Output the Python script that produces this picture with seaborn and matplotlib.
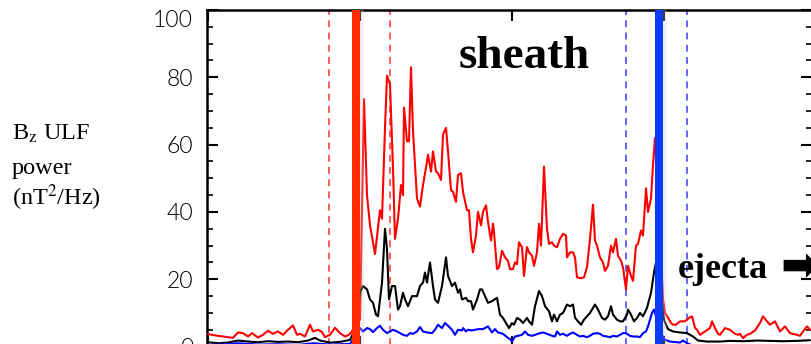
import numpy as np
import pandas as pd
import matplotlib
matplotlib.use("Agg")
import matplotlib.pyplot as plt
import seaborn as sns
from matplotlib.ticker import MultipleLocator, FixedLocator

# ---- data (time in sample index, power in nT^2/Hz) ----
red_t = [0, 5, 10, 12.5, 15, 17.5, 20, 22, 25, 27.5, 30, 32.5, 35, 37.5, 40, 42.5, 44.5, 46, 48.5, 51,
         52.5, 55, 57, 58.5, 61, 63.5, 66, 68.5, 70.5, 72, 74, 76, 78, 79.5, 81, 83.5, 86, 87, 88.5, 89.5,
         91, 92.5, 93.5, 95, 96.5, 97.5, 98, 99.5, 100.5, 101.5, 102.5, 104.5, 106, 107.5, 109.5, 110,
         111.5, 112.5, 114, 115, 116.5, 117.5, 119, 120, 121.5, 122.5, 124, 125, 126.5, 127.5, 129.5,
         130.5, 131.5, 132.5, 134, 135, 136.5, 137.5, 139, 140, 141.5, 142.5, 143, 144.5, 145.5, 147,
         148.5, 150, 151, 152.5, 153.5, 154.5, 155.5, 157, 158, 159.5, 160.5, 162, 163, 164.5, 165.5,
         166.5, 168, 169.5, 170.5, 172, 173, 174.5, 176, 177.5, 179, 179.5, 181, 182.5, 183.5, 184.5,
         186.5, 188, 189.5, 191, 192.5, 193.5, 194.5, 196, 197.5, 198.5, 200, 201.5, 202.5, 204, 205,
         206.5, 207.5, 209, 210, 211.5, 212.5, 214, 215, 216.5, 217.5, 219, 220, 221.5, 222.5, 223.5,
         225.5, 227.5, 228.5, 230, 231.5, 232.5, 234, 236, 238.5, 240.5, 242, 243.5, 244.5, 246, 248.5,
         251, 252, 253.5, 255, 256, 258.5, 261, 263.5, 265, 266, 267.5, 269.5, 271, 273.5, 276, 277.5,
         279.5, 281, 283.5, 286, 288.5, 291, 294.5, 296, 297.5, 299.5, 301]
red_v = [3.7, 3.2, 2.8, 2.6, 4.2, 4.0, 3.0, 4.0, 2.7, 3.5, 4.7, 3.8, 4.5, 3.5, 5.0, 6.3, 3.5, 3.8, 3.0, 6.5,
         4.5, 5.0, 4.3, 2.8, 3.5, 5.6, 4.0, 3.0, 3.5, 4.5, 7.0, 8.0, 73.5, 45, 36, 27.5, 40.5, 38, 65, 80.5,
         78, 53, 32, 38, 48, 45, 71, 61, 61, 83, 64, 44, 41.6, 48, 55, 57,
         52, 58, 52, 51.5, 49.5, 63, 65, 58, 46.5, 46, 43, 51, 51.5, 46, 40.5,
         40.5, 32, 28, 33, 40, 36, 40, 42, 37, 31.5, 36.5, 34, 23, 23.5, 28.5,
         26.5, 25.5, 23, 23, 25, 24.5, 31, 29.5, 21, 29.6, 28, 27, 24, 28, 36.5,
         30, 53.5, 35, 30.5, 31, 30, 29.5, 32, 33.5, 33, 26.5, 28, 28, 26.5, 20.6,
         20.3, 20.6, 23.6, 32, 42.2, 31.5, 30, 26.5, 25, 22.5, 24, 30, 28, 32, 27,
         25.5, 23.5, 17, 24, 21, 19.5, 30, 30.5, 34.5, 33, 47, 40, 44, 54, 62,
         40, 14, 10, 8.6, 7.0, 6.5, 6.5, 7.5, 7.5, 8.5, 9.0, 5.6, 5.0, 3.5, 4.5,
         5.5, 7.5, 5.5, 3.8, 3.5, 5.5, 5.0, 3.8, 3.5, 3.8, 2.5, 3.5, 3.8, 4.8, 7.0, 9.0,
         7.5, 6.5, 7.5, 4.5, 6.0, 4.0, 3.5, 3.2, 4.5, 6.0, 5.0]

black_t = [0, 5, 10, 15, 20, 25, 30, 35, 40, 45, 50, 53.5, 56, 61, 66, 71, 73.5, 76, 77.5, 79.5, 81,
           82.5, 84, 85, 87, 88.5, 89.5, 90.5, 92, 93.5, 95, 96, 97.5, 98.5, 100, 102, 104.5, 106, 107.5,
           108.5, 109.5, 111, 112.5, 113.5, 115, 117, 119, 120, 122, 123.5, 125, 126, 127, 129, 130,
           131.5, 132.5, 134.5, 136, 137, 138.5, 140, 142, 144.5, 146, 147.5, 149.5, 150.5, 152, 153,
           154.5, 156, 157.5, 159.5, 160.5, 162, 163.5, 165.5, 167, 168.5, 170.5, 172, 173, 174.5, 176,
           177.5, 179.5, 181, 182.5, 183.5, 185, 186.5, 188, 189.5, 191, 193.5, 195, 197, 198.5, 200,
           201.5, 202.5, 204.5, 206, 207.5, 209.5, 210, 211.5, 213, 214.5, 216, 217.5, 219.5, 221.5,
           223, 224, 226.5, 228, 229, 230, 232.5, 236, 239.5, 242.5, 245, 249.5, 256, 261, 267.5,
           274.5, 281, 287.5, 294.5, 301]
black_v = [1.3, 1.0, 1.2, 1.8, 1.5, 1.3, 1.6, 1.4, 1.5, 1.3, 1.8, 2.6, 1.8, 1.2, 1.4, 2.0, 5, 16, 18, 17, 14,
           13, 9.5, 9, 19, 35, 29, 14, 18, 18, 11, 12, 16, 14, 12, 15, 15, 18, 19,
           22, 19, 25, 18, 14, 13, 18, 26.5, 21, 18, 19, 16, 17, 14, 14.5, 13.5,
           13.5, 11, 14, 17, 17, 15, 13, 13.5, 14.5, 9.5, 8.5, 6.5, 5.5, 7, 6.5,
           8.5, 8, 7, 8.5, 7.5, 6.5, 12, 16.5, 15, 12, 10.5, 7.5, 9.5, 7.5, 9.5,
           10, 12.5, 12, 12.5, 8.6, 7.5, 6.5, 8, 9, 10, 12.5, 11, 8.5, 8, 9,
           12, 9.5, 8, 7.5, 7.5, 9.5, 11, 9.5, 7.5, 8.5, 10, 9, 11.5, 16,
           22, 25, 15, 8, 6.5, 5.2, 4.5, 4.2, 4.0, 3.0, 1.8, 1.5, 1.5, 1.7, 1.6,
           1.8, 1.7, 1.6, 1.7, 1.9]

blue_t = [0, 10, 15, 25, 35, 45, 52.5, 61, 71, 73.5, 76, 77.5, 79.5, 81, 82.5, 84.5, 86, 87.5, 89.5, 91,
          92.5, 94.5, 96, 97.5, 99.5, 101, 102.5, 104.5, 106, 107.5, 109.5, 112, 113.5, 115, 117, 118.5,
          120, 122, 123.5, 125, 127, 127.5, 129, 130, 132, 133.5, 135.5, 137.5, 140, 142, 143.5, 145,
          147.5, 149.5, 151, 152, 153.5, 155, 157, 158.5, 160, 162, 163.5, 166, 167.5, 169.5, 172,
          173.5, 174.5, 176, 177.5, 179.5, 181, 182.5, 184.5, 186, 187.5, 189.5, 191, 192.5, 194.5,
          196, 197.5, 199.5, 201, 202.5, 204.5, 206, 207.5, 209, 211, 212.5, 214.5, 216, 217.5, 219,
          220, 222, 223, 224.5, 226.5, 228.5, 231, 236, 237.5, 239.5, 242, 251, 266, 281, 301]
blue_v = [0.5, 0.7, 1.0, 0.6, 0.7, 0.5, 1.0, 0.6, 0.8, 3, 5.5, 4.5, 5.5, 5.2, 4.3, 5.5, 6.2, 5.0, 4.0, 4.5,
          5.0, 4.5, 4.0, 3.5, 3.2, 4.0, 3.8, 4.5, 5.8, 4.5, 4.2, 4.0, 5.0, 6.5, 5.5, 7.0,
          6.2, 5.0, 3.5, 5.0, 4.8, 5.5, 4.5, 5.0, 4.8, 5.0, 5.2, 5.2, 6.0, 4.2, 5.2, 4.2,
          3.8, 2.8, 2.2, 1.5, 3.0, 3.2, 3.5, 4.5, 3.5, 3.2, 3.5, 4.0, 4.2, 3.8, 3.2,
          3.0, 4.5, 3.5, 3.8, 3.2, 3.8, 4.2, 3.5, 3.0, 3.2, 2.8, 3.2, 3.8, 4.0,
          3.8, 3.2, 3.0, 2.8, 3.2, 3.0, 3.5, 4.0, 4.0, 3.2, 3.0, 3.0, 2.8, 4.0, 4.5,
          6.0, 10, 11, 8, 4, 2.0, 1.5, 1.2, 1.8, 1.0, 0.4, 0.3, 0.3, 0.3, 0.3]

shock_t = 74.0          # red thick line
shock_window = [60.5, 91.0]
ejecta_t = 225.5        # blue thick line
ejecta_window = [209.25, 239.5]
ytick_vals = [0, 20, 40, 60, 80, 100]
ytick_labels = ["0", "20", "40", "60", "80", "100"]
xtick_vals = [0, 76, 152, 228, 304]

df = pd.concat([
    pd.DataFrame({"t": red_t, "p": red_v, "s": "red"}),
    pd.DataFrame({"t": black_t, "p": black_v, "s": "black"}),
    pd.DataFrame({"t": blue_t, "p": blue_v, "s": "blue"}),
])

sns.set_theme(style="white")
plt.rcParams["font.family"] = ["DejaVu Sans"]
plt.rcParams["mathtext.fontset"] = "stix"

W, H = 812, 344
fig = plt.figure(figsize=(W / 100, H / 100), dpi=100)
ax = fig.add_axes([207 / W, (H - 346.6) / H, (812.5 - 207) / W, (346.6 - 10) / H])

sns.lineplot(data=df, x="t", y="p", hue="s", units="s", estimator=None, sort=False,
             palette={"red": "#ff0000", "black": "#000000", "blue": "#0000ff"},
             linewidth=1.5, legend=False, ax=ax, zorder=3)

for xv in shock_window:
    ax.axvline(xv, color="#ff3030", lw=1.1, ls=(0, (4.5, 3.5)), zorder=2)
for xv in ejecta_window:
    ax.axvline(xv, color="#3a3aff", lw=1.1, ls=(0, (4.5, 3.5)), zorder=2)
ax.axvline(shock_t + 2.3, color="#cccccc", lw=4, alpha=0.3, zorder=4)
ax.axvline(shock_t, color="#ff2a00", lw=5.8, zorder=5)
ax.axvline(ejecta_t + 2.3, color="#cccccc", lw=4, alpha=0.3, zorder=4)
ax.axvline(ejecta_t, color="#0a3cff", lw=5.8, zorder=5)

ax.set_xlim(-0.5, 302.25)
ax.set_ylim(0, 100)
ax.xaxis.set_major_locator(FixedLocator(xtick_vals))
ax.set_xticklabels([])
ax.set_yticks(ytick_vals)
ax.set_yticklabels(ytick_labels)
ax.yaxis.set_minor_locator(MultipleLocator(5))
ax.tick_params(axis="both", which="both", direction="in", top=True, right=True,
               bottom=True, left=True, color="black")
ax.tick_params(axis="both", which="major", length=8, width=1.5)
ax.tick_params(axis="y", which="minor", length=4.5, width=1.2)
ax.tick_params(axis="y", which="major", pad=10, labelsize=16.5, labelcolor="black")
for lab in ax.get_yticklabels():
    lab.set_family(["Lato", "DejaVu Sans"])
    lab.set_fontweight(300)
    if lab.get_text() == "100":
        lab.set_va("top")
ax.set_xlabel("")
ax.set_ylabel("")
for sp in ax.spines.values():
    sp.set_color("black")
    sp.set_linewidth(1.8)

serif = ["Liberation Serif", "DejaVu Serif"]
fig.text(12 / W, 1 - 140 / H, r"B$_\mathrm{z}$ ULF", family=serif, fontsize=17.5, color="black")
fig.text(12 / W, 1 - 174 / H, "power", family=serif, fontsize=17.5, color="black")
fig.text(12 / W, 1 - 205 / H, r"(nT$^2$/Hz)", family=serif, fontsize=17.5, color="black")

fig.text(524 / W, 1 - 68 / H, "sheath", family=serif, fontsize=34, fontweight="bold",
         ha="center", va="baseline", color="black")
fig.text(678 / W, 1 - 278 / H, "ejecta", family=serif,
         fontsize=26, fontweight="bold", ha="left", va="baseline", color="black")
fig.text(780 / W, 1 - 268 / H, "\u27a1", family=["DejaVu Sans"],
         fontsize=33, fontweight="bold", ha="left", va="center", color="black")

fig.savefig("out.png", dpi=100)
